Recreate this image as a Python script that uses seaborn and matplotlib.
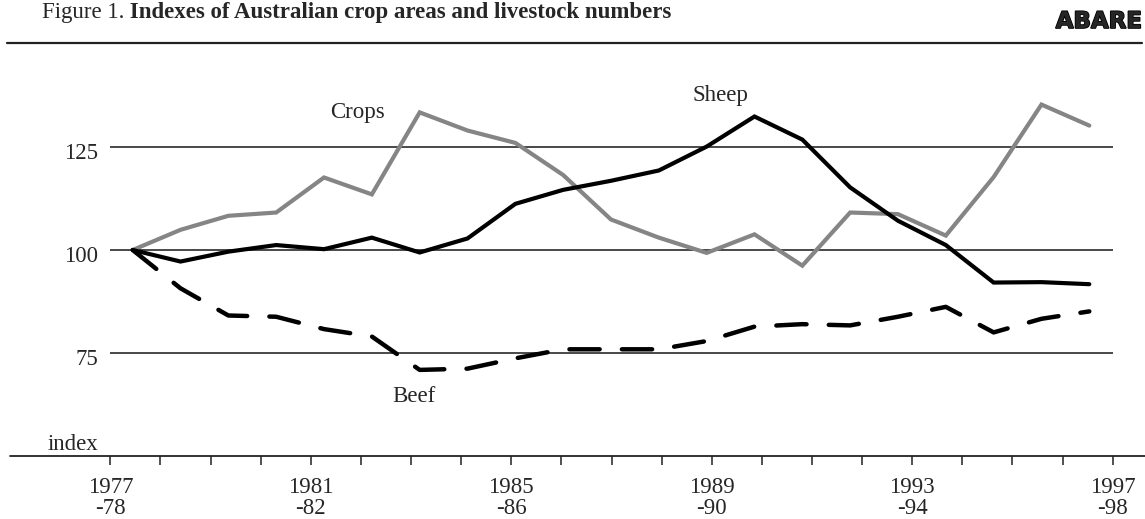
import matplotlib
matplotlib.use("Agg")
import matplotlib.pyplot as plt
import matplotlib.transforms as mtransforms
import matplotlib.patheffects as pe
from matplotlib.lines import Line2D
import seaborn as sns
import pandas as pd

# ---------------- data ----------------
seasons = ["1977-78", "1978-79", "1979-80", "1980-81", "1981-82", "1982-83",
           "1983-84", "1984-85", "1985-86", "1986-87", "1987-88", "1988-89",
           "1989-90", "1990-91", "1991-92", "1992-93", "1993-94", "1994-95",
           "1995-96", "1996-97", "1997-98"]
crops = [100, 104.9, 108.3, 109.1, 117.6, 113.5, 133.4, 129.0, 126.0, 118.2,
         107.4, 103.0, 99.3, 103.8, 96.2, 109.1, 108.7, 103.5, 117.7, 135.3, 130.2]
sheep = [100, 97.2, 99.6, 101.2, 100.2, 103.0, 99.4, 102.8, 111.2, 114.6,
         116.8, 119.3, 125.1, 132.4, 126.8, 115.2, 107.1, 101.2, 92.1, 92.2, 91.7]
beef = [100, 90.7, 84.1, 83.8, 80.8, 79.0, 70.9, 71.2, 73.7, 75.9,
        75.9, 75.9, 77.9, 81.4, 82.0, 81.7, 83.8, 86.2, 80.0, 83.3, 85.1]
label_seasons = ["1977-78", "1981-82", "1985-86", "1989-90", "1993-94", "1997-98"]
y_ticks = [75, 100, 125]

df = pd.DataFrame({"season": seasons, "pos": range(len(seasons)),
                   "Crops": crops, "Sheep": sheep, "Beef": beef})

# ---------------- style ----------------
sns.set_style("white")
plt.rcParams["font.family"] = ["Liberation Serif", "DejaVu Serif"]
FS = 16.5

W, H = 1145, 519
fig = plt.figure(figsize=(W / 100, H / 100), dpi=100)


def fx(px):
    return px / W


def fy(py):
    return 1 - py / H


# axes carrying the ticks / grid
ax = fig.add_axes([fx(110.3), fy(456), fx(1112.7) - fx(110.3), fy(44) - fy(456)])
# axes carrying the data lines
axd = fig.add_axes([fx(132.7), fy(456), fx(1089.3) - fx(132.7), fy(44) - fy(456)])
axd.patch.set_alpha(0)

# grid / ticks axes
ax.set_xlim(0, len(seasons) - 1)
ax.set_ylim(50, 150)
ax.set_xticks(range(len(seasons)))
ax.set_xticklabels([s.replace("-", "\n-") if s in label_seasons else "" for s in seasons])
ax.set_yticks(y_ticks)
ax.set_yticklabels([str(v) for v in y_ticks])
ax.yaxis.grid(True, color="#2a2a2a", linewidth=1.2)
ax.xaxis.grid(False)
for sp in ax.spines.values():
    sp.set_visible(False)
ax.tick_params(axis="x", bottom=True, direction="out", length=6.8, width=1.1,
               color="#222222", pad=8, labelsize=FS)
ax.tick_params(axis="y", left=False, length=0, pad=8.5, labelsize=FS)
for lbl in ax.get_xticklabels():
    lbl.set_linespacing(1.05)
    lbl.set_multialignment("center")
off = mtransforms.ScaledTranslation(0, -4 / 100, fig.dpi_scale_trans)
for lbl in ax.get_yticklabels():
    lbl.set_transform(lbl.get_transform() + off)

# data lines
sns.lineplot(data=df, x="pos", y="Crops", ax=axd, color="#858585", linewidth=3.0)
sns.lineplot(data=df, x="pos", y="Sheep", ax=axd, color="black", linewidth=3.0)
sns.lineplot(data=df, x="pos", y="Beef", ax=axd, color="black", linewidth=3.2)
lines = axd.get_lines()
for ln in lines:
    ln.set_clip_on(False)
    ln.set_solid_capstyle("round")
    ln.set_dash_capstyle("round")
    ln.set_solid_joinstyle("miter")
lines[2].set_linestyle((0, (6.8, 5.0)))
axd.set_xlim(0, len(seasons) - 1)
axd.set_ylim(50, 150)
axd.axis("off")

# series labels
axd.text(4.69, 133.3, "Crops", ha="center", va="center", fontsize=FS)
axd.text(12.29, 137.4, "Sheep", ha="center", va="center", fontsize=FS)
axd.text(5.88, 64.4, "Beef", ha="center", va="center", fontsize=FS)

# axis line across the figure, title rule
fig.add_artist(Line2D([fx(10), fx(1145)], [fy(456), fy(456)], color="#222222", linewidth=1.3))
fig.add_artist(Line2D([fx(7), fx(1142)], [fy(43.3), fy(43.3)], color="#222222", linewidth=1.6))

fig.text(fx(98.3), fy(450), "index", ha="right", va="baseline", fontsize=FS)

# title
t1 = fig.text(fx(42), fy(18), "Figure 1.", ha="left", va="baseline", fontsize=FS)
fig.canvas.draw()
ax.annotate(" Indexes of Australian crop areas and livestock numbers", xy=(1, 0),
            xycoords=t1, ha="left", va="bottom", fontsize=FS, fontweight="bold",
            annotation_clip=False)

fig.text(fx(1142), fy(28), "ABARE", ha="right", va="baseline", fontsize=16.5,
         family=["DejaVu Sans"], fontweight="heavy",
         path_effects=[pe.withStroke(linewidth=1.2, foreground="black")])

fig.savefig("out.png", dpi=100)
